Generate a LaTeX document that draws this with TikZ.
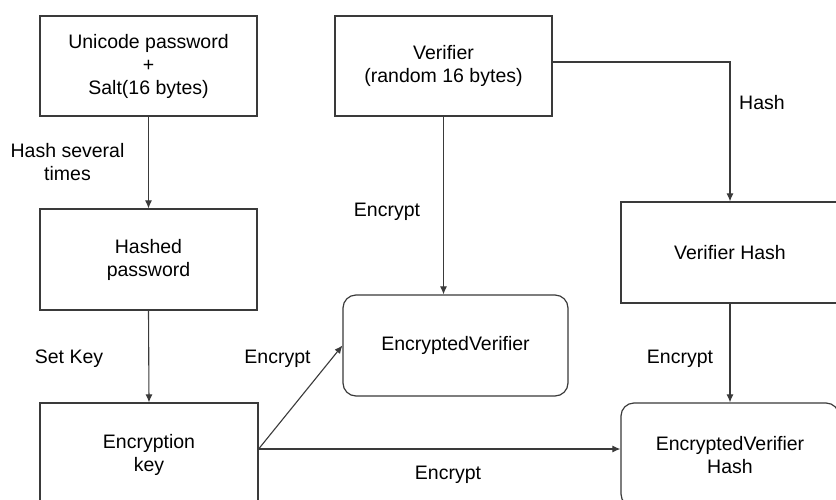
\documentclass[tikz,border=0pt]{standalone}
\usepackage{fontspec}
\setmainfont{Liberation Sans}
\usetikzlibrary{arrows.meta}
\begin{document}
\begin{tikzpicture}[x=1pt,y=1pt,
  every node/.style={font=\fontsize{19.5}{23}\selectfont, text=black},
  box/.style={draw=lc, line width=1.2pt, rectangle, align=center, inner sep=0pt},
  rbox/.style={box, rounded corners=13pt},
  conn/.style={draw=lc, line width=1.1pt},
  arr/.style={conn, -{Latex[length=8pt,width=7pt]}},
  lbl/.style={align=center, inner sep=0pt}]
\definecolor{lc}{HTML}{3A3A3A}
\useasboundingbox (0,0) rectangle (836,-499);
\clip (0,0) rectangle (836,-499);
\fill[white] (0,0) rectangle (836,-499);
% nodes
\node[box, minimum width=217, minimum height=100] (pw) at (148.5,-66) {Unicode password\\+\\Salt(16 bytes)};
\node[box, minimum width=217, minimum height=101] (hp) at (148.5,-259.5) {Hashed\\password};
\node[box, minimum width=218, minimum height=104] (ek) at (149,-455) {Encryption\\key};
\node[box, minimum width=217, minimum height=100] (vf) at (443.5,-66) {Verifier\\(random 16 bytes)};
\node[box, minimum width=218, minimum height=101] (vh) at (730,-252.5) {Verifier Hash};
\node[rbox, minimum width=225, minimum height=101] (ev) at (455.5,-345.5) {EncryptedVerifier};
\node[rbox, minimum width=218, minimum height=104] (evh) at (730,-455) {EncryptedVerifier\\Hash};
% connectors
\draw[arr] (pw.south) -- (hp.north);
\draw[arr] (hp.south) -- (ek.north);
\draw[arr] (vf.south) -- (vf.south |- ev.north);
\draw[arr] ([yshift=4]vf.east) -| (vh.north);
\draw[arr] (vh.south) -- (evh.north);
\draw[arr] ([yshift=6]ek.east) -- (ev.west);
\draw[arr] ([yshift=6]ek.east) -- ([yshift=6]evh.west);
% labels
\node[lbl] (l1) at (67.5,-162) {Hash several\\times};
\node[lbl] (l2) at (762,-103) {Hash};
\node[lbl] (l3) at (387,-212) {Encrypt};
\node[lbl] (l4) at (69,-359) {Set Key};
\node[lbl] (l5) at (277.5,-359) {Encrypt};
\node[lbl] (l6) at (680,-359) {Encrypt};
\node[lbl] (l7) at (448,-475) {Encrypt};
\end{tikzpicture}
\end{document}
